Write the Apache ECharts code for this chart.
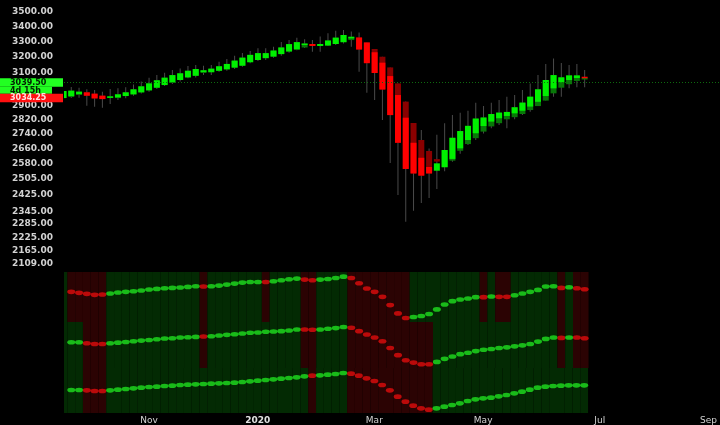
<!DOCTYPE html>
<html><head><meta charset="utf-8">
<script src="https://cdn.jsdelivr.net/npm/echarts@6/dist/echarts.min.js"></script>
<style>html,body{margin:0;padding:0;background:#000;}#c{width:720px;height:425px;}</style>
</head><body><div id="c"></div>
<script>
// ---- price panel (Heikin-Ashi style bodies + shadow bodies) ----
const haOpen  = [2944,2956,2968,2978,2970,2958,2946,2948,2956,2966,2978,2990,3006,3022,3038,3053,3069,3079,3102,3101,3110,3119,3130,3142,3164,3178,3190,3200,3216,3233,3248,3277,3282,3269,3272,3282,3294,3319,3325,3292,3228,3161,3077,2962,2830,2691,2611,2563,2544,2562,2605,2661,2706,2743,2783,2808,2827,2840,2855,2870,2894,2922,2956,3002,3039,3053,3065,3073];
const haClose = [2986,2988,2982,2958,2942,2938,2954,2966,2978,2996,3014,3032,3051,3067,3083,3094,3110,3121,3113,3123,3138,3153,3174,3193,3211,3222,3222,3239,3259,3281,3294,3285,3269,3282,3305,3324,3342,3330,3246,3158,3096,2995,2845,2691,2553,2530,2519,2530,2582,2652,2718,2755,2784,2825,2831,2851,2859,2863,2890,2917,2952,2996,3053,3083,3069,3081,3081,3065];
const highs   = [3000,3010,3006,2996,2992,2982,2998,3002,3008,3025,3043,3067,3083,3098,3115,3125,3140,3146,3142,3146,3167,3185,3206,3223,3236,3254,3254,3264,3295,3308,3324,3313,3308,3331,3353,3370,3376,3366,3358,3292,3249,3199,3131,3032,2923,2800,2761,2660,2735,2798,2845,2859,2870,2917,2897,2917,2933,2952,2962,2992,3032,3083,3153,3187,3159,3146,3153,3115];
const lows    = [2935,2945,2946,2899,2893,2887,2909,2933,2943,2958,2971,2982,2998,3016,3028,3043,3063,3068,3083,3083,3104,3110,3121,3135,3157,3172,3178,3192,3205,3224,3241,3255,3232,3232,3269,3275,3286,3264,3104,2976,2933,2817,2584,2423,2296,2347,2384,2408,2452,2541,2590,2632,2679,2706,2742,2770,2789,2770,2821,2845,2864,2897,2929,2952,2952,3002,3009,3009];
const shOpen  = [2944,2950,2962,2978,2970,2958,2946,2944,2956,2966,2978,2990,3006,3022,3038,3053,3069,3079,3096,3101,3110,3119,3130,3142,3164,3178,3190,3200,3216,3233,3243,3259,3282,3269,3272,3282,3294,3308,3325,3292,3249,3199,3131,3032,2923,2800,2706,2647,2604,2562,2596,2648,2684,2716,2752,2781,2799,2821,2833,2851,2874,2897,2929,2972,3006,3027,3047,3056];
const shClose = [2986,2988,2982,2958,2942,2938,2954,2966,2978,2996,3014,3032,3051,3067,3083,3094,3110,3121,3113,3123,3138,3153,3174,3193,3211,3222,3222,3239,3259,3281,3294,3285,3269,3282,3305,3324,3342,3330,3246,3158,3096,2995,2845,2691,2553,2530,2519,2530,2591,2652,2718,2755,2784,2825,2831,2851,2859,2863,2890,2917,2952,2996,3053,3083,3069,3081,3081,3065];
const priceTicks = [3500,3400,3300,3200,3100,2900,2820,2740,2660,2580,2505,2425,2345,2285,2225,2165,2109];
const lastPrice = 3039.50;
const lastClose = 3034.25;
const barCountdown = '4d 15h';

// ---- lower panel: three indicator rows ----
const ind1 = [91,91,88,85,82,83,86,89,91,93,95,98,100,102,103,104,106,108,107,108,110,113,116,119,121,121,121,123,126,129,131,128,126,128,130,133,137,133,117,101,91,76,51,26,12,15,18,24,38,53,63,68,71,75,75,77,76,76,81,86,91,97,107,108,103,105,102,99];
const ind2 = [76,76,76,73,71,71,73,75,77,79,81,83,85,87,88,90,91,92,93,94,96,98,100,102,104,105,107,108,109,111,114,114,113,114,116,118,121,119,109,99,90,79,59,38,23,16,11,11,18,27,34,41,45,50,54,56,59,61,64,67,71,78,86,90,89,90,90,88];
const ind3 = [69,69,69,68,66,66,68,70,72,74,76,78,79,81,82,84,85,86,87,88,89,90,91,93,95,97,99,101,103,105,107,110,112,113,115,117,120,118,112,104,96,84,68,49,34,22,14,10,14,19,24,29,36,41,44,46,50,54,59,64,70,76,79,81,82,83,83,83];
const dir1 = 'g'+'rrrrr'+'gggggggggggg'+'r'+'ggggggg'+'r'+'gggg'+'rr'+'gggg'+'rrrrrrrr'+'ggggggggg'+'r'+'g'+'rr'+'gggggg'+'r'+'g'+'rr';
const dir2 = 'ggg'+'rrr'+'gggggggggggg'+'r'+'gggggggggggg'+'rr'+'gggg'+'rrrrrrrrrrr'+'gggggggggggggggg'+'r'+'g'+'rr';
const dir3 = 'ggg'+'rrr'+'gggggggggggggggggggggggggg'+'r'+'gggg'+'rrrrrrrrrrr'+'gggggggggggggggggggg';

// ---- time axis ticks (bar index of first bar of the month) ----
const monthTickIndex = [11,25,40,54,69,83];
const monthTickLabels = ['Nov','2020','Mar','May','Jul','Sep'];

// ---- styling ----
const G = '#00f000', R = '#ff0000', DG = '#087808', DR = '#8a0000', WICK = '#4a4a4a';
const BG_G = '#032a03', BG_R = '#2b0303', DOT_G = '#1fe01f', DOT_R = '#e00c0c';
const FONT = 'DejaVu Sans';
const X_MIN = 0.065, X_MAX = 84.4;

const chart = echarts.init(document.getElementById('c'), null, {renderer: 'canvas'});

const candleData = haOpen.map((o, i) => [i, o, haClose[i], lows[i], highs[i], shOpen[i], shClose[i]]);

function renderCandle(params, api) {
  const i = api.value(0), o = api.value(1), c = api.value(2), lo = api.value(3), hi = api.value(4), so = api.value(5), sc = api.value(6);
  const p = api.coord([i, c]);
  const x = p[0];
  const step = api.coord([i + 1, c])[0] - x;
  const w = step * 0.77;
  const yo = api.coord([i, o])[1], yc = p[1];
  const yl = api.coord([i, lo])[1], yh = api.coord([i, hi])[1];
  const yso = api.coord([i, so])[1], ysc = api.coord([i, sc])[1];
  return {
    type: 'group',
    children: [
      {type: 'rect', shape: {x: x - 0.5, y: yh, width: 1, height: yl - yh}, style: {fill: WICK}},
      {type: 'rect', shape: {x: x - w / 2, y: Math.min(yso, ysc), width: w, height: Math.max(1, Math.abs(ysc - yso))}, style: {fill: sc >= so ? DG : DR}},
      {type: 'rect', shape: {x: x - w / 2, y: Math.min(yo, yc), width: w, height: Math.max(1.5, Math.abs(yc - yo))}, style: {fill: c >= o ? G : R}}
    ]
  };
}

function bgRenderer(dir, vmax) {
  return function (params, api) {
    const i = api.value(0);
    const a = api.coord([i - 0.5, vmax]);
    const b = api.coord([i + 0.5, 0]);
    const cs = params.coordSys;
    const rect = echarts.graphic.clipRectByRect(
      {x: a[0], y: a[1], width: b[0] - a[0], height: b[1] - a[1]},
      {x: cs.x, y: cs.y, width: cs.width, height: cs.height});
    if (!rect) return;
    return {type: 'rect', shape: rect, style: {fill: dir[i] === 'r' ? BG_R : BG_G}};
  };
}

const bands = [
  {top: 272, height: 50, vmax: 151, vals: ind1, dir: dir1},
  {top: 322, height: 46, vmax: 136, vals: ind2, dir: dir2},
  {top: 368, height: 45, vmax: 135, vals: ind3, dir: dir3}
];

const grids = [{left: 64, right: 0, top: 12, height: 252}];
const xAxes = [{type: 'value', gridIndex: 0, min: X_MIN, max: X_MAX, show: false}];
const yAxes = [{
  type: 'log', logBase: 10, gridIndex: 0, min: 2109, max: 3500,
  axisLine: {show: false}, axisTick: {show: false}, splitLine: {show: false},
  axisLabel: {customValues: priceTicks, formatter: v => Number(v).toFixed(2), color: '#d2d2d2',
    fontFamily: FONT, fontSize: 9, fontWeight: 'bold', margin: 11}
}];
const series = [
  {type: 'custom', xAxisIndex: 0, yAxisIndex: 0, renderItem: renderCandle, data: candleData, clip: true,
   encode: {x: 0, y: [1, 2, 3, 4]}},
  {type: 'line', xAxisIndex: 0, yAxisIndex: 0, data: [], silent: true,
   markLine: {silent: true, symbol: ['none', 'none'], label: {show: false},
     lineStyle: {color: '#0e6a0e', type: [1, 2], width: 1}, data: [{yAxis: lastPrice}]}}
];

bands.forEach((b, k) => {
  const gi = k + 1;
  grids.push({left: 64, right: 0, top: b.top, height: b.height});
  const xa = {type: 'value', gridIndex: gi, min: X_MIN, max: X_MAX,
    axisLine: {show: false}, axisTick: {show: false}, splitLine: {show: false}, axisLabel: {show: false}};
  if (k === 2) {
    xa.axisLabel = {show: true, customValues: monthTickIndex, margin: 3,
      formatter: v => {
        const s = monthTickLabels[monthTickIndex.indexOf(Math.round(v))] || '';
        return /^\d{4}$/.test(s) ? '{y|' + s + '}' : s;
      },
      color: '#d2d2d2', fontFamily: FONT, fontSize: 9,
      rich: {y: {fontWeight: 'bold', color: '#e0e0e0', fontFamily: FONT, fontSize: 9}}};
  }
  xAxes.push(xa);
  yAxes.push({type: 'value', gridIndex: gi, min: 0, max: b.vmax, show: false});
  series.push({type: 'custom', xAxisIndex: gi, yAxisIndex: gi, renderItem: bgRenderer(b.dir, b.vmax),
    data: b.vals.map((v, i) => [i, v]), encode: {x: 0, y: 1}, z: 1, silent: true});
  series.push({type: 'scatter', xAxisIndex: gi, yAxisIndex: gi, symbol: 'circle', symbolSize: [8, 4.6],
    data: b.vals.map((v, i) => [i, v]), z: 3, silent: true,
    itemStyle: {color: p => b.dir[p.dataIndex] === 'r' ? DOT_R : DOT_G}});
});

chart.setOption({
  animation: false,
  backgroundColor: '#000000',
  grid: grids, xAxis: xAxes, yAxis: yAxes, series: series
});

// price tags at the left, placed from the price axis
const yp = chart.convertToPixel({yAxisIndex: 0}, lastPrice);
const tagFont = {fontFamily: FONT, fontSize: 8, fontWeight: 'bold'};
chart.setOption({
  graphic: [
    {type: 'rect', left: 0, top: yp - 4, shape: {width: 63, height: 8.5}, style: {fill: '#22ff22'}, z: 100},
    {type: 'text', left: 10, top: yp - 3.6, style: Object.assign({text: lastPrice.toFixed(2), fill: '#032003'}, tagFont), z: 101},
    {type: 'rect', left: 0, top: yp + 4.5, shape: {width: 52, height: 7}, style: {fill: '#22ff22'}, z: 100},
    {type: 'text', left: 10, top: yp + 4.6, style: Object.assign({text: barCountdown, fill: '#032003'}, tagFont), z: 101},
    {type: 'rect', left: 0, top: yp + 11.5, shape: {width: 63, height: 8.5}, style: {fill: '#ff1010'}, z: 100},
    {type: 'text', left: 10, top: yp + 11.9, style: Object.assign({text: lastClose.toFixed(2), fill: '#ffe0e0'}, tagFont), z: 101}
  ]
});
</script></body></html>
